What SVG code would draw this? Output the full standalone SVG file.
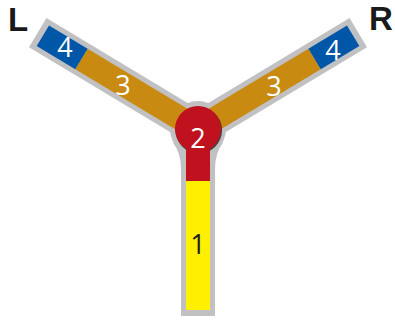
<svg xmlns="http://www.w3.org/2000/svg" width="395" height="322" viewBox="0 0 395 322">
  <style>
    .grey { fill: #C1C1C3; }
    .num { font-family: "Open Sans", "Liberation Sans", sans-serif; font-size: 27px; text-anchor: middle; }
    .w { fill: #FFFFFF; }
    .k { fill: #231F20; }
    .lbl { font-family: "Liberation Sans", Arial, sans-serif; font-weight: bold; font-size: 33px; fill: #1A1A1A; }
  </style>
  <defs>
    <rect id="outer" x="-17" y="0" width="34" height="187"/>
  </defs>
  <rect width="395" height="322" fill="#FFFFFF"/>
  <g id="outline" class="grey">
    <use href="#outer" transform="translate(198,129)"/>
    <use href="#outer" transform="translate(198,129) rotate(121)"/>
    <use href="#outer" transform="translate(198,129) rotate(-121)"/>
    <circle cx="198" cy="129" r="28"/>
    <path d="M181,170 Q181,152 173,143 L223,143 Q215,152 215,170 Z"/>
  </g>
  <g id="arm-left" transform="translate(198,129) rotate(121)">
    <rect x="-12" y="0" width="24" height="136" fill="#C98A12"/>
    <rect x="-12" y="136" width="24" height="45" fill="#0057A8"/>
  </g>
  <g id="arm-right" transform="translate(198,129) rotate(-121)">
    <rect x="-12" y="0" width="24" height="136" fill="#C98A12"/>
    <rect x="-12" y="136" width="24" height="45" fill="#0057A8"/>
  </g>
  <g id="stem" transform="translate(198,129)">
    <rect x="-12" y="52" width="24" height="129" fill="#FFF000"/>
  </g>
  <g id="hub">
    <circle cx="198.8" cy="130.2" r="23.3" fill="#3A2A2A" opacity="0.85"/>
    <circle cx="198" cy="129" r="23" fill="#C0111F"/>
    <rect x="186" y="140" width="24" height="41" fill="#C0111F"/>
  </g>
  <g id="labels">
    <text class="num w" x="65" y="57">4</text>
    <text class="num w" x="123" y="95">3</text>
    <text class="num w" x="274" y="96">3</text>
    <text class="num w" x="333" y="60">4</text>
    <text class="num w" x="198" y="148">2</text>
    <text class="num k" x="198" y="254">1</text>
    <text class="lbl" x="8" y="31">L</text>
    <text class="lbl" x="369" y="30">R</text>
  </g>
</svg>
